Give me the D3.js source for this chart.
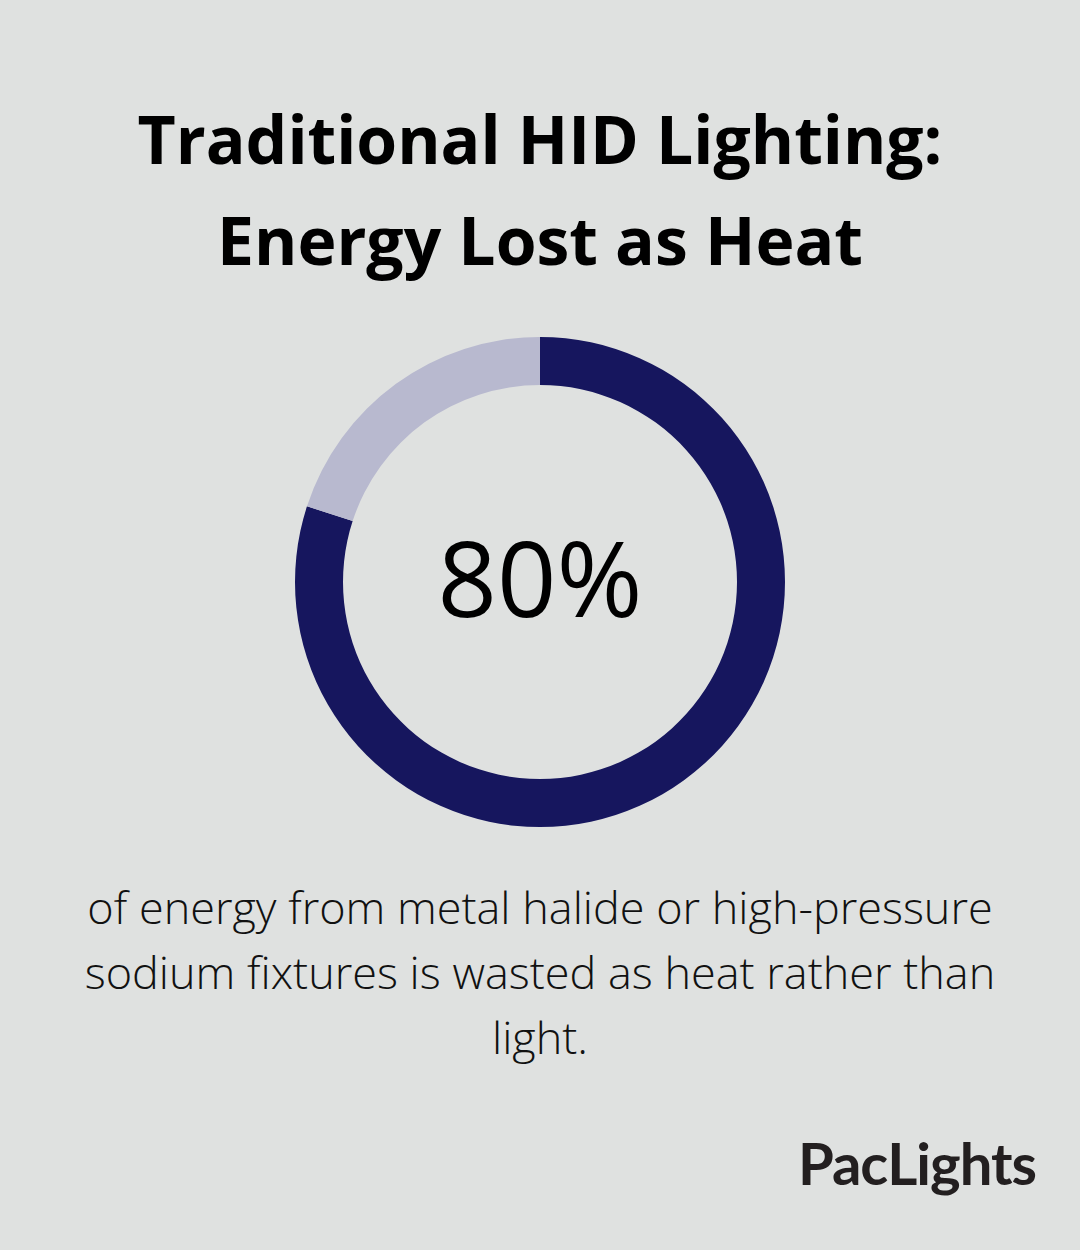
<!DOCTYPE html>
<html><head><meta charset="utf-8">
<script src="https://cdn.jsdelivr.net/npm/d3@7"></script>
<style>body{margin:0;background:#dfe1e0}</style>
</head><body>
<script>
const titleLines = ["Traditional HID Lighting:", "Energy Lost as Heat"];
const categories = ["Wasted as heat", "Light"];
const values = [80, 20];
const centerLabel = "80%";
const bodyLines = ["of energy from metal halide or high-pressure", "sodium fixtures is wasted as heat rather than", "light."];
const brand = "PacLights";
const colors = ["#16165e", "#b8b9cf"];

const W = 1080, H = 1250;
const svg = d3.select("body").append("svg").attr("width", W).attr("height", H);
svg.append("rect").attr("width", W).attr("height", H).attr("fill", "#dfe1e0");

svg.selectAll("text.title").data(titleLines).join("text")
  .attr("x", 540).attr("y", (d, i) => 164 + i * 101)
  .attr("text-anchor", "middle").attr("font-family", "Open Sans").attr("font-weight", 700)
  .attr("font-size", 66).attr("fill", "#000").text(d => d);

const pie = d3.pie().sort(null).value(d => d)(values);
const arc = d3.arc().innerRadius(197).outerRadius(245);
const g = svg.append("g").attr("transform", "translate(540,582)");
g.selectAll("path").data(pie).join("path").attr("d", arc).attr("fill", (d, i) => colors[i]);
g.append("text").attr("y", 35).attr("text-anchor", "middle").attr("font-family", "Open Sans")
  .attr("font-size", 104).attr("fill", "#000").text(centerLabel);

svg.selectAll("text.body").data(bodyLines).join("text")
  .attr("x", 540).attr("y", (d, i) => 924 + i * 65)
  .attr("text-anchor", "middle").attr("font-family", "Open Sans").attr("font-weight", 300)
  .attr("font-size", 45).attr("fill", "#111").text(d => d);

svg.append("text").attr("x", 1036).attr("y", 1185).attr("text-anchor", "end")
  .attr("font-family", "Lato").attr("font-weight", 700).attr("font-size", 58)
  .attr("fill", "#231f20").attr("letter-spacing", -1).text(brand);
</script>
</body></html>
